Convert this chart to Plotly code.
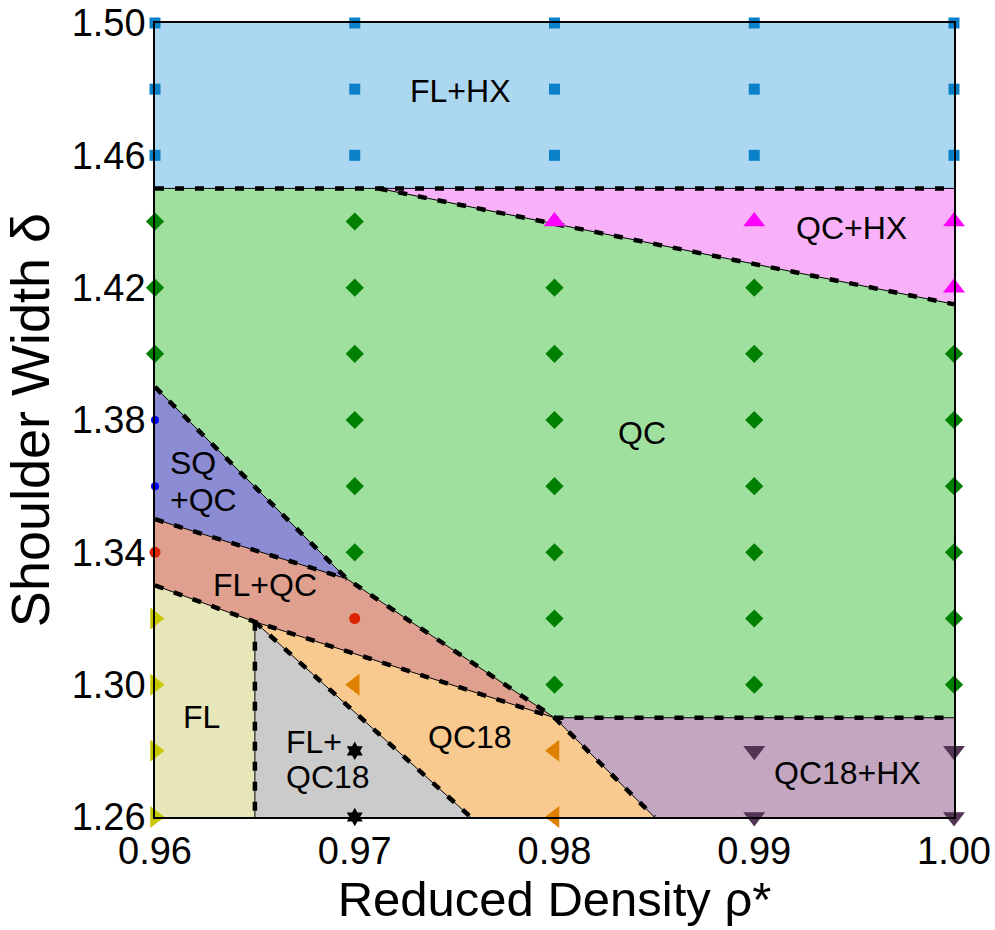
import plotly.graph_objects as go

# ---------------- data ----------------
x_ticks = [0.96, 0.97, 0.98, 0.99, 1.00]
y_ticks = [1.26, 1.30, 1.34, 1.38, 1.42, 1.46, 1.50]

# phase regions (polygon vertices of the phase diagram)
region_names = ["FL+HX", "QC+HX", "QC", "SQ+QC", "FL+QC", "FL", "FL+QC18", "QC18", "QC18+HX"]
region_x = [
    [0.96, 1.00, 1.00, 0.96],
    [0.9712, 1.00, 1.00],
    [0.96, 0.9712, 1.00, 1.00, 0.98, 0.9696, 0.96],
    [0.96, 0.9696, 0.96],
    [0.96, 0.9696, 0.98, 0.965, 0.96],
    [0.96, 0.965, 0.965, 0.96],
    [0.965, 0.9758, 0.965],
    [0.965, 0.98, 0.985, 0.9758],
    [0.98, 1.00, 1.00, 0.985],
]
region_y = [
    [1.45, 1.45, 1.50, 1.50],
    [1.45, 1.45, 1.415],
    [1.45, 1.45, 1.415, 1.29, 1.29, 1.332, 1.39],
    [1.39, 1.332, 1.35],
    [1.35, 1.332, 1.29, 1.319, 1.33],
    [1.33, 1.319, 1.26, 1.26],
    [1.319, 1.26, 1.26],
    [1.319, 1.29, 1.26, 1.26],
    [1.29, 1.29, 1.26, 1.26],
]
region_colors = ["#ACD7F0", "#F8B0F8", "#9FE09F", "#8C8CD4", "#E0A090",
                 "#E6E6B8", "#CBCBCB", "#F9CA90", "#C3A6C0"]

# phase boundaries
boundary_x = [[0.96, 1.00], [0.9712, 1.00], [0.96, 0.9696, 0.98], [0.96, 0.9696],
              [0.96, 0.965, 0.98], [0.965, 0.965], [0.965, 0.9758], [0.98, 0.985], [0.98, 1.00]]
boundary_y = [[1.45, 1.45], [1.45, 1.415], [1.39, 1.332, 1.29], [1.35, 1.332],
              [1.33, 1.319, 1.29], [1.319, 1.26], [1.319, 1.26], [1.29, 1.26], [1.29, 1.29]]

# simulation state points per phase
fl_hx_x = [0.96]*3 + [0.97]*3 + [0.98]*3 + [0.99]*3 + [1.00]*3
fl_hx_y = [1.46, 1.48, 1.50]*5
qc_hx_x = [0.98, 0.99, 1.00, 1.00]
qc_hx_y = [1.44, 1.44, 1.44, 1.42]
qc_x = [0.96]*3 + [0.97]*6 + [0.98]*7 + [0.99]*7 + [1.00]*6
qc_y = ([1.44, 1.42, 1.40] + [1.44, 1.42, 1.40, 1.38, 1.36, 1.34]
        + [1.42, 1.40, 1.38, 1.36, 1.34, 1.32, 1.30]
        + [1.42, 1.40, 1.38, 1.36, 1.34, 1.32, 1.30]
        + [1.40, 1.38, 1.36, 1.34, 1.32, 1.30])
sq_qc_x = [0.96, 0.96]
sq_qc_y = [1.38, 1.36]
fl_qc_x = [0.96, 0.97]
fl_qc_y = [1.34, 1.32]
fl_x = [0.96, 0.96, 0.96, 0.96]
fl_y = [1.32, 1.30, 1.28, 1.26]
fl_qc18_x = [0.97, 0.97]
fl_qc18_y = [1.28, 1.26]
qc18_x = [0.97, 0.98, 0.98]
qc18_y = [1.30, 1.28, 1.26]
qc18_hx_x = [0.99, 0.99, 1.00, 1.00]
qc18_hx_y = [1.28, 1.26, 1.28, 1.26]

# region labels
label_text = ["FL+HX", "QC+HX", "QC", "SQ", "+QC", "FL+QC", "FL", "FL+", "QC18", "QC18", "QC18+HX"]
label_x = [0.97525, 0.99485, 0.9844, 0.96065, 0.96065, 0.9655, 0.96233, 0.96645, 0.96645, 0.97575, 0.99468]
label_y = [1.4793, 1.4381, 1.3762, 1.3671, 1.3559, 1.3302, 1.2903, 1.2828, 1.2722, 1.2843, 1.2733]
label_anchor = ["center", "center", "center", "left", "left", "center", "center", "left", "left", "center", "center"]

FONT = "Liberation Sans, Arial, Helvetica, sans-serif"

fig = go.Figure()

for name, xs, ys, col in zip(region_names, region_x, region_y, region_colors):
    fig.add_trace(go.Scatter(x=xs, y=ys, fill="toself", fillcolor=col, mode="lines",
                             line=dict(width=0, color=col), hoverinfo="skip", name=name))

bx, by = [], []
for xs, ys in zip(boundary_x, boundary_y):
    bx += xs + [None]
    by += ys + [None]
fig.add_trace(go.Scatter(x=bx, y=by, mode="lines", line=dict(color="black", width=1),
                         hoverinfo="skip"))
fig.add_trace(go.Scatter(x=bx, y=by, mode="lines",
                         line=dict(color="black", width=4.5, dash="9px,11px"), hoverinfo="skip"))

markers = [
    (fl_hx_x, fl_hx_y, "square", "#0A80C8", 11),
    (qc_hx_x, qc_hx_y, "triangle-up", "#FF00FF", 19),
    (qc_x, qc_y, "diamond", "#008000", 14),
    (sq_qc_x, sq_qc_y, "circle", "#0000FF", 8),
    (fl_qc_x, fl_qc_y, "circle", "#DD2200", 11),
    (fl_x, fl_y, "triangle-right", "#C8C800", 19),
    (fl_qc18_x, fl_qc18_y, "hexagram", "#000000", 14),
    (qc18_x, qc18_y, "triangle-left", "#E08000", 19),
    (qc18_hx_x, qc18_hx_y, "triangle-down", "#553355", 19),
]
for xs, ys, sym, col, sz in markers:
    fig.add_trace(go.Scatter(x=xs, y=ys, mode="markers", cliponaxis=False,
                             marker=dict(symbol=sym, color=col, size=sz, line=dict(width=0))))

for t, x, y, a in zip(label_text, label_x, label_y, label_anchor):
    fig.add_annotation(x=x, y=y, text=t, showarrow=False, xanchor=a, yanchor="middle",
                       font=dict(family=FONT, size=32, color="black"))

fig.update_layout(
    width=995, height=930,
    margin=dict(l=155, r=41, t=23, b=113),
    plot_bgcolor="white", paper_bgcolor="white",
    showlegend=False,
    font=dict(family=FONT, color="black"),
)
fig.update_xaxes(range=[0.96, 1.00], tickvals=x_ticks, ticktext=[f"{v:.2f}" for v in x_ticks],
                 showgrid=False, zeroline=False, showline=True, mirror=True, automargin=False,
                 linecolor="black", linewidth=1.5, ticks="",
                 tickfont=dict(family=FONT, size=38, color="black"),
                 title=dict(text="Reduced Density ρ*", font=dict(family=FONT, size=49, color="black"),
                            standoff=6))
fig.update_yaxes(range=[1.26, 1.50], tickvals=y_ticks, ticktext=[f"{v:.2f}" for v in y_ticks],
                 showgrid=False, zeroline=False, showline=True, mirror=True, automargin=False,
                 linecolor="black", linewidth=1.5, ticks="",
                 tickfont=dict(family=FONT, size=38, color="black"),
                 title=dict(text="Shoulder Width δ", font=dict(family=FONT, size=54, color="black"),
                            standoff=6))

fig.write_html("out.html")
